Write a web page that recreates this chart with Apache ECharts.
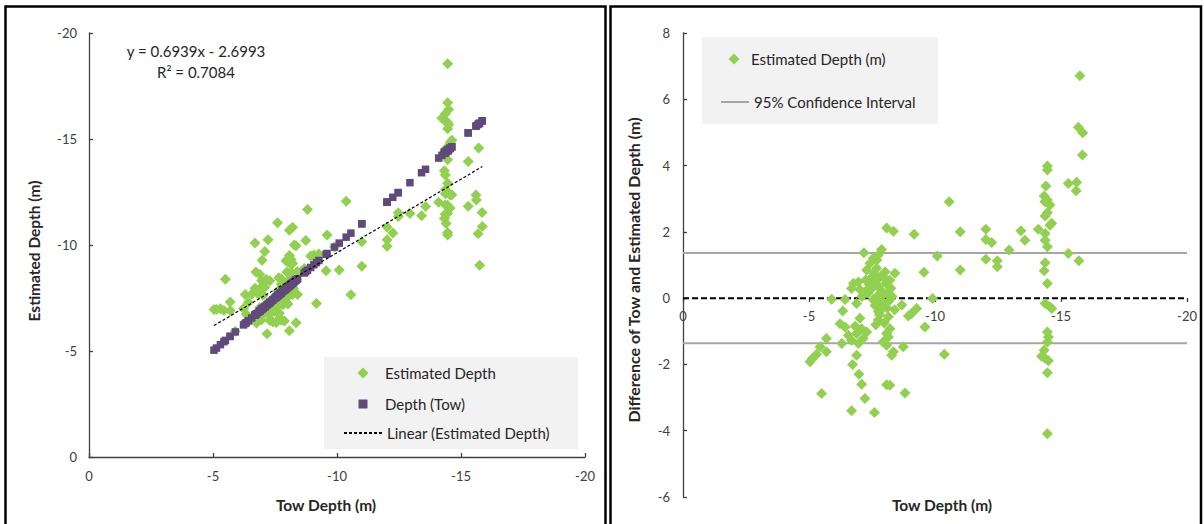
<!DOCTYPE html>
<html><head><meta charset="utf-8">
<script src="https://cdn.jsdelivr.net/npm/echarts@6/dist/echarts.min.js"></script>
<style>html,body{margin:0;padding:0;background:#fff}#c{width:1204px;height:524px}</style>
</head><body><div id="c"></div>
<script>
// Tow depth (m) of each sample
const towDepth = [-15.75,-15.69,-15.86,-15.85,-14.46,-14.46,-14.40,-15.29,-15.62,-15.60,-14.33,-14.46,-14.56,-14.36,-14.46,-14.37,-14.63,-14.56,-14.10,-14.37,-14.37,-14.46,-11.00,-12.02,-12.02,-12.25,-13.41,-13.57,-12.94,-12.02,-12.47,-12.47,-11.00,-15.29,-15.71,-14.37,-14.33,-14.46,-14.37,-14.56,-14.63,-14.46,-14.50,-14.46,-14.33,-14.23,-14.37,-14.50,-14.46,-14.46,-10.56,-10.09,-9.56,-9.90,-10.37,-8.08,-8.35,-9.17,-7.18,-7.88,-7.75,-7.69,-7.55,-7.42,-7.29,-8.02,-8.41,-7.82,-8.21,-6.76,-6.96,-6.69,-7.02,-7.29,-5.90,-6.43,-6.89,-8.68,-9.27,-9.07,-8.94,-6.34,-7.75,-8.15,-8.21,-8.08,-8.15,-6.23,-6.43,-7.02,-6.83,-7.09,-7.29,-6.89,-6.56,-7.15,-6.96,-6.30,-6.69,-7.94,-8.08,-8.74,-5.69,-5.44,-5.69,-5.30,-5.14,-5.04,-8.35,-8.28,-6.89,-6.73,-6.98,-7.09,-8.08,-8.21,-5.50,-8.81,-7.22,-6.69,-7.60,-7.48,-7.62,-7.75,-7.88,-7.95,-7.70,-7.55,-7.82,-8.00,-7.62,-7.90,-7.75,-8.10,-8.25,-8.12,-7.40,-7.35,-7.58,-8.30,-7.68,-8.05,-7.95,-7.50,-7.80,-8.18,-7.25,-7.10,-8.40,-7.65,-7.98,-9.60];
// Estimated depth (m) of each sample
const estimatedDepth = [-9.04,-10.53,-10.87,-11.53,-10.47,-10.59,-11.02,-11.83,-12.12,-12.36,-11.25,-11.50,-11.75,-11.45,-11.88,-11.89,-12.37,-12.36,-12.02,-12.42,-12.62,-12.91,-9.00,-9.94,-10.25,-10.57,-11.38,-11.82,-11.49,-10.85,-11.34,-11.52,-10.15,-13.94,-14.58,-13.30,-13.50,-14.02,-14.53,-14.82,-14.94,-15.48,-15.67,-15.78,-15.90,-15.98,-16.19,-16.39,-16.71,-18.55,-7.65,-8.82,-8.78,-9.91,-12.06,-5.96,-6.33,-7.24,-5.81,-6.41,-6.45,-6.54,-6.35,-6.37,-6.44,-7.22,-7.66,-7.18,-7.67,-6.32,-6.47,-6.40,-6.76,-7.05,-5.93,-6.47,-7.05,-8.89,-9.58,-9.53,-9.48,-6.73,-8.41,-8.71,-9.13,-9.15,-9.32,-7.00,-7.30,-7.63,-7.68,-8.01,-8.31,-7.96,-7.68,-8.37,-8.33,-7.67,-7.96,-9.26,-9.50,-10.21,-6.91,-6.91,-7.31,-6.99,-6.96,-6.96,-9.97,-10.00,-8.61,-8.73,-9.28,-9.69,-10.69,-10.84,-8.38,-11.67,-10.25,-10.09,-11.05,-6.86,-7.14,-7.40,-7.66,-7.85,-7.65,-7.60,-7.94,-8.20,-7.84,-8.22,-8.15,-8.40,-7.95,-7.97,-7.00,-7.20,-6.83,-8.25,-6.78,-7.60,-7.30,-7.20,-8.30,-8.26,-6.70,-7.05,-8.75,-8.45,-8.73,-10.47];
// Difference of tow and estimated depth (m)
const depthDifference = [6.71,5.16,4.99,4.32,3.99,3.87,3.38,3.46,3.50,3.24,3.08,2.96,2.81,2.91,2.58,2.48,2.26,2.20,2.08,1.95,1.75,1.55,2.00,2.08,1.77,1.68,2.03,1.75,1.45,1.17,1.13,0.95,0.85,1.35,1.13,1.07,0.83,0.44,-0.16,-0.26,-0.31,-1.02,-1.17,-1.32,-1.57,-1.75,-1.82,-1.89,-2.25,-4.09,2.91,1.27,0.78,-0.01,-1.69,2.12,2.02,1.93,1.37,1.47,1.30,1.15,1.20,1.05,0.85,0.80,0.75,0.64,0.54,0.44,0.49,0.29,0.26,0.24,-0.03,-0.04,-0.16,-0.21,-0.31,-0.46,-0.54,-0.39,-0.66,-0.56,-0.92,-1.07,-1.17,-0.77,-0.87,-0.61,-0.85,-0.92,-1.02,-1.07,-1.12,-1.22,-1.37,-1.37,-1.27,-1.32,-1.42,-1.47,-1.22,-1.47,-1.62,-1.69,-1.82,-1.92,-1.62,-1.72,-1.72,-2.00,-2.30,-2.60,-2.61,-2.63,-2.88,-2.86,-3.03,-3.40,-3.45,0.62,0.48,0.35,0.22,0.10,0.05,-0.05,-0.12,-0.20,-0.22,-0.32,-0.40,-0.30,0.30,0.15,0.40,0.15,0.75,0.05,0.90,0.45,0.65,0.30,-0.50,-0.08,0.55,0.05,-0.35,-0.80,-0.75,-0.87];
// Linear trend (Estimated Depth) end points
const trendTow = [-5.04, -15.86];
const trendEstimate = [-6.20, -13.70];
// 95% confidence limits and zero reference
const confidenceLimits = [1.36, -1.36];
const referenceSpan = [0, -20];
const zeroReference = 0;
// Axis ranges / ticks
const depthAxis = {min: -20, max: 0, interval: 5};
const diffAxis = {min: -6, max: 8, interval: 2};

const FONT = 'Lato, "Open Sans", "DejaVu Sans", sans-serif';
const AX = '#404040';
const TXT = '#262626';
const GREEN = '#92D050';
const PURPLE = '#604A7B';

const zip = (a, b) => a.map((v, i) => [v, b[i]]);

const chart = echarts.init(document.getElementById('c'), null, {renderer: 'svg'});

function axisCommon(extra) {
  return Object.assign({
    type: 'value',
    splitLine: {show: false},
    axisLine: {show: true, onZero: false, lineStyle: {color: AX, width: 1.3}},
    axisTick: {show: true, inside: true, length: 4, lineStyle: {color: AX, width: 1.3}},
    axisLabel: {color: AX, fontSize: 13, fontFamily: FONT, margin: 12},
  }, extra);
}

function legendItem(name, left, top, w, h, padLeft, extra) {
  return Object.assign({
    data: [name], left: left, top: top, orient: 'horizontal', padding: 0,
    itemWidth: w, itemHeight: h, selectedMode: false,
    textStyle: {fontSize: 15, fontFamily: FONT, color: TXT, lineHeight: 16, padding: [0, 0, 0, padLeft]}
  }, extra || {});
}

const titleStyle = (text, size) => ({text: text, fontSize: size, fontWeight: 'bold', fontFamily: FONT, fill: TXT, textAlign: 'center', textVerticalAlign: 'middle'});

const option = {
  animation: false,
  backgroundColor: '#fff',
  grid: [
    {left: 89, top: 33, width: 496, height: 424},
    {left: 683, top: 33, width: 504, height: 464}
  ],
  xAxis: [
    axisCommon(Object.assign({gridIndex: 0, inverse: true}, depthAxis)),
    axisCommon(Object.assign({gridIndex: 1, inverse: true, offset: -199}, depthAxis, {
      axisLine: {show: false, onZero: false},
      axisTick: {show: true, inside: false, length: 4, lineStyle: {color: AX, width: 1.3}},
      axisLabel: {color: AX, fontSize: 13, fontFamily: FONT, margin: 11}
    }))
  ],
  yAxis: [
    axisCommon(Object.assign({gridIndex: 0, inverse: true}, depthAxis)),
    axisCommon(Object.assign({gridIndex: 1}, diffAxis, {
      axisLabel: {color: AX, fontSize: 13, fontFamily: FONT, margin: 13}
    }))
  ],
  legend: [
    legendItem('Estimated Depth', 357.5, 365, 11, 11, 11.5),
    legendItem('Depth (Tow)', 358.5, 396, 9, 9, 12.5),
    legendItem('Linear (Estimated Depth)', 343, 425, 38, 11, 0, {itemStyle: {opacity: 0}}),
    legendItem('Estimated Depth (m)', 728.5, 51, 11, 11, 6.5),
    legendItem('95% Confidence Interval', 720, 94, 28, 11, 0, {itemStyle: {opacity: 0}})
  ],
  graphic: [
    {type: 'rect', z: 0, shape: {x: 324, y: 357, width: 254, height: 92}, style: {fill: '#F2F2F2'}},
    {type: 'rect', z: 0, shape: {x: 702, y: 37, width: 236, height: 87}, style: {fill: '#F2F2F2'}},
    {type: 'rect', z: 10, shape: {x: 5.5, y: 6.5, width: 600, height: 530}, style: {fill: 'none', stroke: '#000', lineWidth: 2.5}},
    {type: 'rect', z: 10, shape: {x: 610.5, y: 6.5, width: 590.5, height: 530}, style: {fill: 'none', stroke: '#000', lineWidth: 2.5}},
    {type: 'text', z: 10, x: 196, y: 51, style: {text: 'y = 0.6939x - 2.6993', fontSize: 15, fontFamily: FONT, fill: TXT, textAlign: 'center', textVerticalAlign: 'middle'}},
    {type: 'text', z: 10, x: 196, y: 72, style: {text: 'R² = 0.7084', fontSize: 15, fontFamily: FONT, fill: TXT, textAlign: 'center', textVerticalAlign: 'middle'}},
    {type: 'text', z: 10, x: 326, y: 505, style: titleStyle('Tow Depth (m)', 15.5)},
    {type: 'text', z: 10, x: 942, y: 505, style: titleStyle('Tow Depth (m)', 15.5)},
    {type: 'text', z: 10, x: 34, y: 251, rotation: Math.PI / 2, style: titleStyle('Estimated Depth (m)', 15.5)},
    {type: 'text', z: 10, x: 633, y: 270, rotation: Math.PI / 2, style: titleStyle('Difference of Tow and Estimated Depth (m)', 16)}
  ],
  series: [
    {name: 'Estimated Depth', type: 'scatter', xAxisIndex: 0, yAxisIndex: 0, symbol: 'diamond', symbolSize: 11,
      itemStyle: {color: GREEN, opacity: 1}, data: zip(towDepth, estimatedDepth), z: 2},
    {name: 'Depth (Tow)', type: 'scatter', xAxisIndex: 0, yAxisIndex: 0, symbol: 'rect', symbolSize: 7.5,
      itemStyle: {color: PURPLE, opacity: 1}, data: zip(towDepth, towDepth), z: 3},
    {name: 'Linear (Estimated Depth)', type: 'line', xAxisIndex: 0, yAxisIndex: 0, symbol: 'none',
      lineStyle: {color: '#000', width: 1.2, type: [3, 2]}, itemStyle: {color: '#000'},
      data: zip(trendTow, trendEstimate), z: 4},
    {name: '95% Confidence Interval', type: 'line', xAxisIndex: 1, yAxisIndex: 1, symbol: 'none',
      lineStyle: {color: '#A6A6A6', width: 2}, itemStyle: {color: '#A6A6A6'},
      data: referenceSpan.map(x => [x, confidenceLimits[0]]), z: 1},
    {name: '95% Confidence Interval', type: 'line', xAxisIndex: 1, yAxisIndex: 1, symbol: 'none',
      lineStyle: {color: '#A6A6A6', width: 2}, itemStyle: {color: '#A6A6A6'},
      data: referenceSpan.map(x => [x, confidenceLimits[1]]), z: 1},
    {name: 'Zero', type: 'line', xAxisIndex: 1, yAxisIndex: 1, symbol: 'none',
      lineStyle: {color: '#000', width: 2, type: [6, 3]}, itemStyle: {color: '#000'},
      data: referenceSpan.map(x => [x, zeroReference]), z: 1},
    {name: 'Estimated Depth (m)', type: 'scatter', xAxisIndex: 1, yAxisIndex: 1, symbol: 'diamond', symbolSize: 11,
      itemStyle: {color: GREEN, opacity: 1}, data: zip(towDepth, depthDifference), z: 3}
  ]
};
chart.setOption(option);
</script>
</body></html>
